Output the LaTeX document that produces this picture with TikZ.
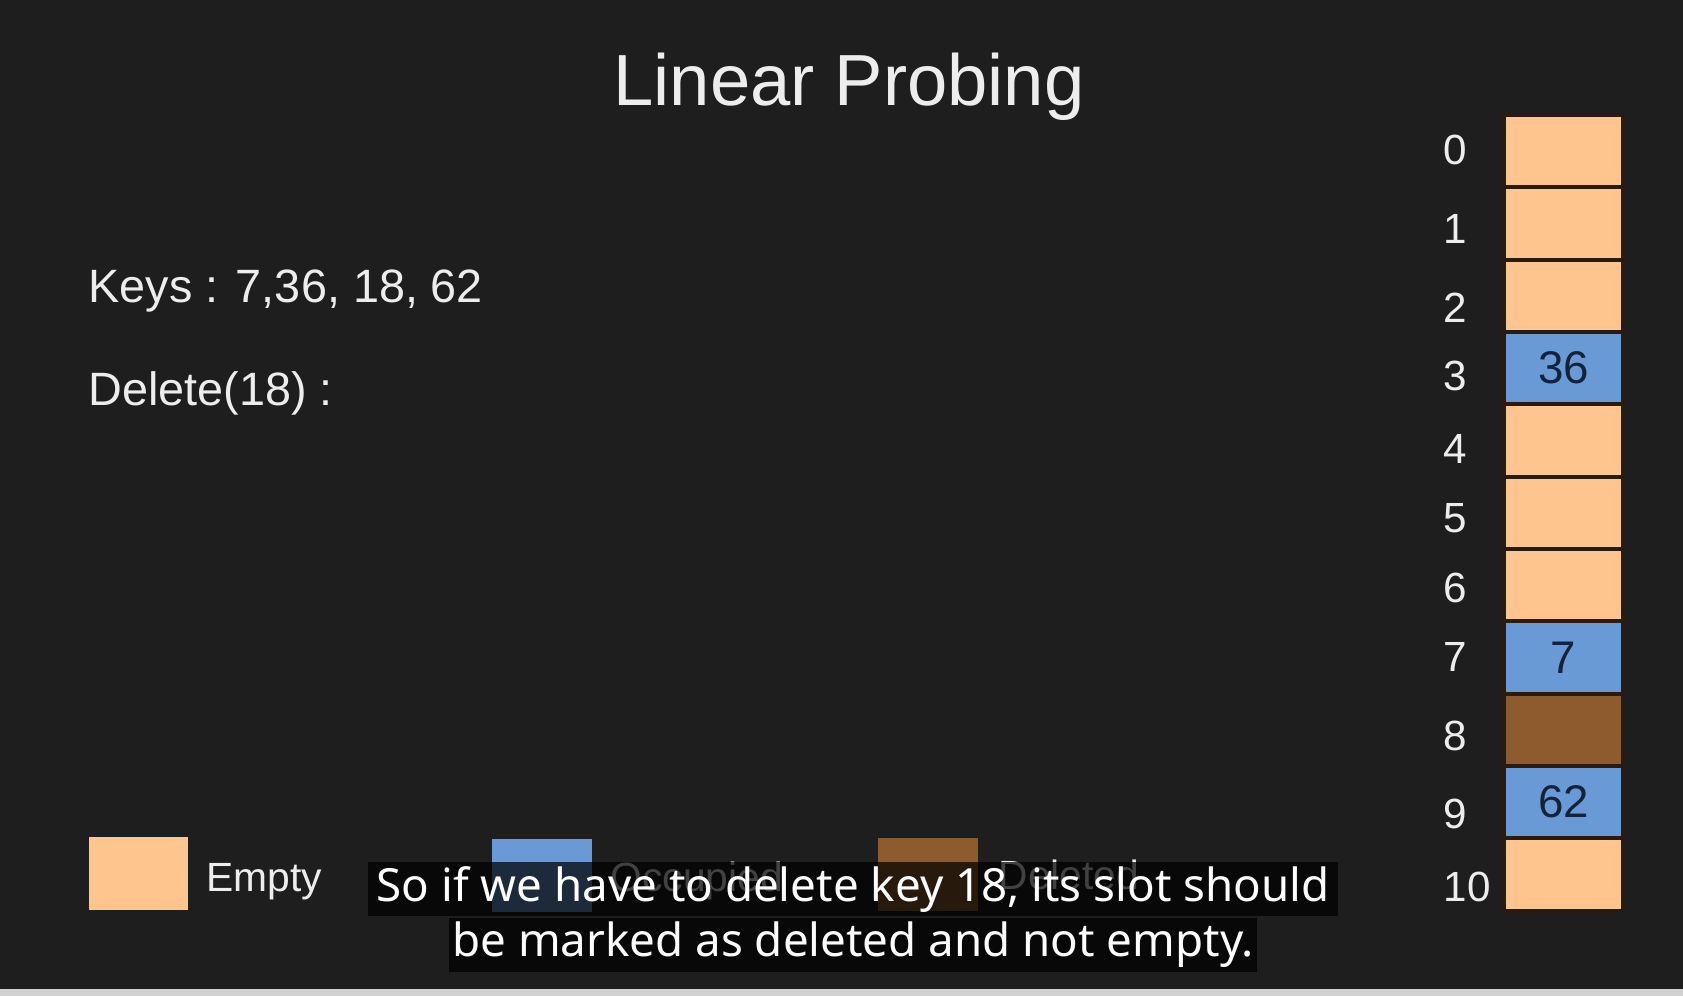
\documentclass[tikz,border=0pt]{standalone}
\usepackage{fontspec}
\setmainfont{Liberation Sans}
\newfontfamily\capfont{Noto Sans}
\usetikzlibrary{positioning}
\definecolor{bgdark}{HTML}{1E1E1E}
\definecolor{emptypeach}{HTML}{FFC58E}
\definecolor{occblue}{HTML}{6A9AD6}
\definecolor{delbrown}{HTML}{8E5B2E}
\definecolor{slotedge}{HTML}{2A1B10}
\definecolor{numnavy}{HTML}{14223A}
\definecolor{softwhite}{HTML}{EDEDED}

\begin{document}
\begin{tikzpicture}[
    x=0.01cm, y=-0.01cm,
    slot/.style={rectangle, draw=slotedge, line width=0.04cm, minimum width=1.19cm, minimum height=0.723cm, inner sep=0pt, outer sep=0pt, text=numnavy, font=\fontsize{13pt}{15pt}\selectfont},
    emptyslot/.style={slot, fill=emptypeach},
    usedslot/.style={slot, fill=occblue},
    deadslot/.style={slot, fill=delbrown},
    idx/.style={anchor=west, inner sep=0pt, text=softwhite, font=\fontsize{12pt}{14pt}\selectfont},
    plain/.style={anchor=base west, inner sep=0pt, text=softwhite, font=\fontsize{13.3pt}{16pt}\selectfont},
    legendbox/.style={rectangle, minimum width=0.99cm, minimum height=0.73cm, inner sep=0pt},
    legendtext/.style={plain, font=\fontsize{11.6pt}{14pt}\selectfont},
    capline/.style={fill=black, fill opacity=0.72, text opacity=1, text=white, inner sep=0pt, minimum height=0.54cm, font=\capfont\fontsize{13pt}{16pt}\selectfont}
]
    % Canvas
    \useasboundingbox (0,0) rectangle (1683,996);
    \fill[bgdark] (0,0) rectangle (1683,996);
    \fill[black!18] (0,989) rectangle (1683,996);

    % Title and text
    \node[anchor=base, inner sep=0pt, text=softwhite, font=\fontsize{20.6pt}{24pt}\selectfont] (title) at (849,105) {Linear Probing};
    \node[plain] (keys) at (88,302) {Keys : 7,36, 18, 62};
    \node[plain] (del) at (88,405) {Delete(18) :};

    % Hash table
    \node[emptyslot] (c0) at (1563.5,151) {};
    \node[emptyslot, below=0pt of c0] (c1) {};
    \node[emptyslot, below=0pt of c1] (c2) {};
    \node[usedslot, below=0pt of c2] (c3) {36};
    \node[emptyslot, below=0pt of c3] (c4) {};
    \node[emptyslot, below=0pt of c4] (c5) {};
    \node[emptyslot, below=0pt of c5] (c6) {};
    \node[usedslot, below=0pt of c6] (c7) {7};
    \node[deadslot, below=0pt of c7] (c8) {};
    \node[usedslot, below=0pt of c8] (c9) {62};
    \node[emptyslot, below=0pt of c9] (c10) {};

    % Indices
    \node[idx] (i0) at (1443,150) {0};
    \node[idx] (i1) at (1443,229) {1};
    \node[idx] (i2) at (1443,308) {2};
    \node[idx] (i3) at (1443,376) {3};
    \node[idx] (i4) at (1443,449) {4};
    \node[idx] (i5) at (1443,518) {5};
    \node[idx] (i6) at (1443,588) {6};
    \node[idx] (i7) at (1443,657) {7};
    \node[idx] (i8) at (1443,736) {8};
    \node[idx] (i9) at (1443,814) {9};
    \node[idx] (i10) at (1443,887) {10};

    % Legend
    \node[legendbox, fill=emptypeach] (lgempty) at (138.5,873.5) {};
    \node[legendtext] (lgemptytxt) at (206,891) {Empty};
    \node[legendbox, fill=occblue] (lgused) at (542,875) {};
    \node[legendtext] (lgusedtxt) at (610,891) {Occupied};
    \node[legendbox, fill=delbrown] (lgdead) at (928,874) {};
    \node[legendtext] (lgdeadtxt) at (998,889) {Deleted};

    % Caption
    \node[capline, minimum width=9.70cm] (cap1) at (853,889) {So if we have to delete key 18, its slot should};
    \node[capline, minimum width=8.08cm] (cap2) at (853,945) {be marked as deleted and not empty.};
\end{tikzpicture}
\end{document}
